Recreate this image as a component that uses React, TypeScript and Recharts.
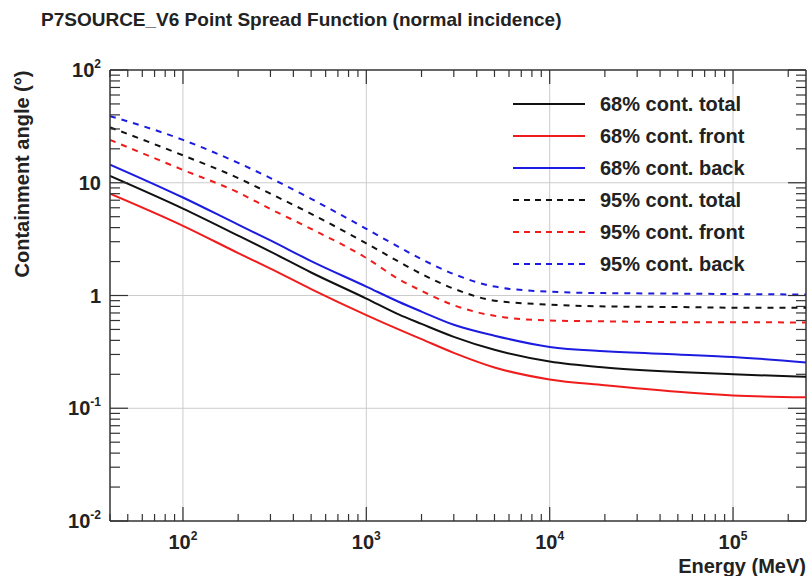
import { Line, LineChart, ReferenceLine, XAxis, YAxis } from "recharts";

// energy grid (MeV) and containment angles (deg)
const ENERGY = [40, 100, 200, 300, 500, 1000, 1500, 2000, 3000, 5000, 10000, 20000, 50000, 100000, 250000];
const CONT68_TOTAL = [11.5, 5.9, 3.4, 2.45, 1.6, 0.94, 0.68, 0.56, 0.43, 0.33, 0.26, 0.23, 0.21, 0.2, 0.19];
const CONT68_FRONT = [8.0, 4.15, 2.38, 1.73, 1.14, 0.67, 0.5, 0.41, 0.31, 0.23, 0.18, 0.16, 0.14, 0.13, 0.125];
const CONT68_BACK = [14.5, 7.4, 4.25, 3.08, 2.02, 1.2, 0.88, 0.72, 0.55, 0.44, 0.35, 0.32, 0.3, 0.285, 0.255];
const CONT95_TOTAL = [31, 17.5, 11, 8.0, 5.3, 2.9, 2.0, 1.55, 1.15, 0.9, 0.83, 0.8, 0.79, 0.78, 0.78];
const CONT95_FRONT = [24, 13, 8.2, 5.85, 3.9, 2.15, 1.4, 1.1, 0.82, 0.66, 0.6, 0.59, 0.58, 0.58, 0.575];
const CONT95_BACK = [39, 24, 15, 11, 7.2, 3.9, 2.7, 2.1, 1.55, 1.2, 1.08, 1.05, 1.04, 1.03, 1.02];

const X_MAJOR = [100, 1000, 10000, 100000];
const X_MAJOR_EXP = ["2", "3", "4", "5"];
const X_MINOR = [
  40, 50, 60, 70, 80, 90,
  200, 300, 400, 500, 600, 700, 800, 900,
  2000, 3000, 4000, 5000, 6000, 7000, 8000, 9000,
  20000, 30000, 40000, 50000, 60000, 70000, 80000, 90000,
  200000,
];
const Y_MAJOR = [0.01, 0.1, 1, 10, 100];
const Y_MAJOR_BASE = ["10", "10", "1", "10", "10"];
const Y_MAJOR_EXP = ["-2", "-1", "", "", "2"];
const Y_MINOR = [
  0.02, 0.03, 0.04, 0.05, 0.06, 0.07, 0.08, 0.09,
  0.2, 0.3, 0.4, 0.5, 0.6, 0.7, 0.8, 0.9,
  2, 3, 4, 5, 6, 7, 8, 9,
  20, 30, 40, 50, 60, 70, 80, 90,
];
const X_GRID = [100, 1000, 10000, 100000];
const Y_GRID = [0.1, 1, 10];

const BLACK = "#111111";
const RED = "#f01c1c";
const BLUE = "#1c1ce0";
const AXIS = "#333333";
const GRID = "#cccccc";
const FONT = "'Liberation Sans', Arial, Helvetica, sans-serif";

const SERIES = [
  { key: "t68", name: "68% cont. total", color: BLACK, dash: undefined, values: CONT68_TOTAL },
  { key: "f68", name: "68% cont. front", color: RED, dash: undefined, values: CONT68_FRONT },
  { key: "b68", name: "68% cont. back", color: BLUE, dash: undefined, values: CONT68_BACK },
  { key: "t95", name: "95% cont. total", color: BLACK, dash: "6 6", values: CONT95_TOTAL },
  { key: "f95", name: "95% cont. front", color: RED, dash: "6 6", values: CONT95_FRONT },
  { key: "b95", name: "95% cont. back", color: BLUE, dash: "6 6", values: CONT95_BACK },
];

const data = ENERGY.map((energy, i) => {
  const row: Record<string, number> = { energy };
  SERIES.forEach((s) => {
    row[s.key] = s.values[i];
  });
  return row;
});

// chart geometry
const W = 812;
const H = 576;
const PLOT_LEFT = 110;
const PLOT_TOP = 70;
const PLOT_RIGHT = 806;
const PLOT_BOTTOM = 521;
const PLOT_W = PLOT_RIGHT - PLOT_LEFT;
const PLOT_H = PLOT_BOTTOM - PLOT_TOP;

// bottom axis tick: inward tick marks on bottom + top frame, label for majors
const XTick = (props: any) => {
  const { x, y, payload } = props;
  const idx = X_MAJOR.indexOf(payload.value);
  const major = idx >= 0;
  const len = major ? 14 : 7;
  return (
    <g>
      <line x1={x} y1={y} x2={x} y2={y - len} stroke={AXIS} strokeWidth={1.2} />
      <line x1={x} y1={y - PLOT_H} x2={x} y2={y - PLOT_H + len} stroke={AXIS} strokeWidth={1.2} />
      {major && (
        <text x={x} y={y + 28} textAnchor="middle" fontFamily={FONT} fontWeight="bold" fontSize={20} fill="#222">
          10
          <tspan dy={-9} fontSize={12}>
            {X_MAJOR_EXP[idx]}
          </tspan>
        </text>
      )}
    </g>
  );
};

// left axis tick: inward tick marks on left + right frame, label for majors
const YTick = (props: any) => {
  const { x, y, payload } = props;
  const idx = Y_MAJOR.indexOf(payload.value);
  const major = idx >= 0;
  const len = major ? 18 : 10;
  return (
    <g>
      <line x1={x} y1={y} x2={x + len} y2={y} stroke={AXIS} strokeWidth={1.2} />
      <line x1={x + PLOT_W} y1={y} x2={x + PLOT_W - len} y2={y} stroke={AXIS} strokeWidth={1.2} />
      {major && (
        <text x={x - 9} y={y} dy="0.35em" textAnchor="end" fontFamily={FONT} fontWeight="bold" fontSize={20} fill="#222">
          {Y_MAJOR_BASE[idx]}
          {Y_MAJOR_EXP[idx] && (
            <tspan dy={-9} fontSize={12}>
              {Y_MAJOR_EXP[idx]}
            </tspan>
          )}
        </text>
      )}
    </g>
  );
};

const textStyle = {
  position: "absolute" as const,
  fontFamily: FONT,
  fontWeight: "bold" as const,
  color: "#222",
  whiteSpace: "nowrap" as const,
  lineHeight: "22px",
};

export default function App() {
  return (
    <div style={{ position: "absolute", left: 0, top: 0, width: W, height: H, background: "#fff" }}>
      <LineChart
        width={W}
        height={H}
        data={data}
        margin={{ top: PLOT_TOP, right: W - PLOT_RIGHT, bottom: 0, left: 0 }}
      >
        <XAxis
          dataKey="energy"
          type="number"
          scale="log"
          domain={[40, 250000]}
          allowDataOverflow
          ticks={[...X_MINOR, ...X_MAJOR]}
          interval={0}
          height={H - PLOT_BOTTOM}
          tickSize={0}
          tickMargin={0}
          tickLine={false}
          axisLine={{ stroke: AXIS, strokeWidth: 1.5 }}
          tick={(p: any) => <XTick {...p} />}
        />
        <YAxis
          type="number"
          scale="log"
          domain={[0.01, 100]}
          allowDataOverflow
          ticks={[...Y_MINOR, ...Y_MAJOR]}
          interval={0}
          width={PLOT_LEFT}
          tickSize={0}
          tickMargin={0}
          tickLine={false}
          axisLine={{ stroke: AXIS, strokeWidth: 1.5 }}
          tick={(p: any) => <YTick {...p} />}
        />

        {X_GRID.map((v) => (
          <ReferenceLine key={`gx${v}`} x={v} stroke={GRID} strokeWidth={1} />
        ))}
        {Y_GRID.map((v) => (
          <ReferenceLine key={`gy${v}`} y={v} stroke={GRID} strokeWidth={1} />
        ))}
        {/* top and right frame */}
        <ReferenceLine y={100} stroke={AXIS} strokeWidth={1.5} ifOverflow="visible" />
        <ReferenceLine x={250000} stroke={AXIS} strokeWidth={1.5} ifOverflow="visible" />

        {SERIES.map((s) => (
          <Line
            key={s.key}
            dataKey={s.key}
            name={s.name}
            type="monotone"
            stroke={s.color}
            strokeWidth={2}
            strokeDasharray={s.dash}
            dot={false}
            activeDot={false}
            isAnimationActive={false}
          />
        ))}
      </LineChart>

      <div style={{ ...textStyle, left: 41, top: 9, fontSize: 19 }}>
        P7SOURCE_V6 Point Spread Function (normal incidence)
      </div>

      <div
        style={{
          ...textStyle,
          left: 22,
          top: 174,
          fontSize: 20,
          transform: "translate(-50%, -50%) rotate(-90deg)",
        }}
      >
        Containment angle (°)
      </div>

      <div style={{ ...textStyle, right: W - PLOT_RIGHT, top: 555, fontSize: 20 }}>Energy (MeV)</div>

      <div style={{ position: "absolute", left: 510, top: 88 }}>
        {SERIES.map((s) => (
          <div key={s.key} style={{ display: "flex", alignItems: "center", height: 32 }}>
            <svg width={78} height={12} style={{ marginRight: 12 }}>
              <line
                x1={3}
                y1={6}
                x2={75}
                y2={6}
                stroke={s.color}
                strokeWidth={2}
                strokeDasharray={s.dash ? "6 5" : undefined}
              />
            </svg>
            <span style={{ fontFamily: FONT, fontWeight: "bold", fontSize: 20, color: "#222", whiteSpace: "nowrap" }}>
              {s.name}
            </span>
          </div>
        ))}
      </div>
    </div>
  );
}
